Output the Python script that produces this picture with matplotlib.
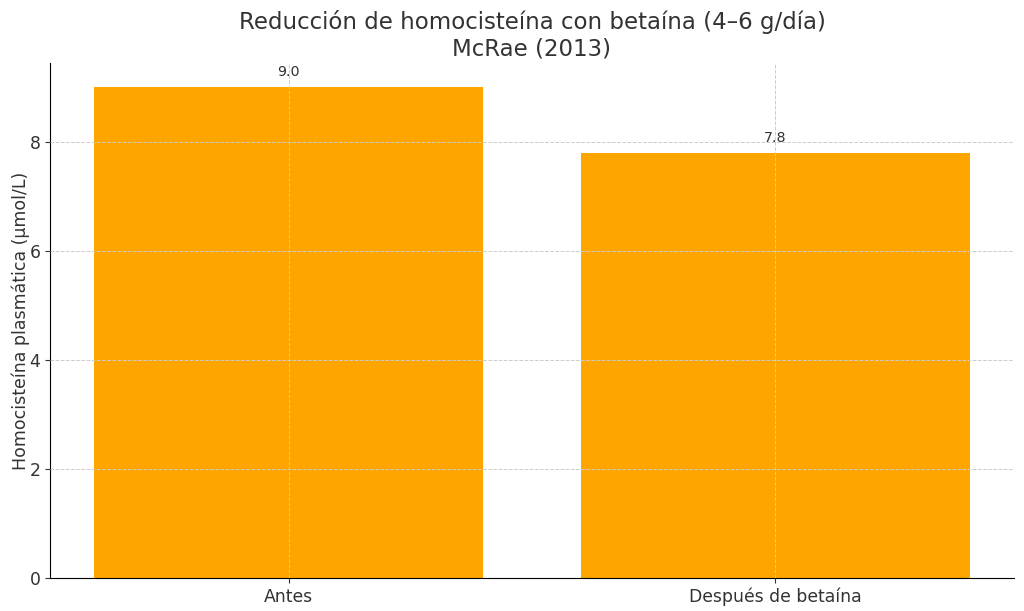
import matplotlib
matplotlib.use("Agg")
import matplotlib.pyplot as plt

categories = ["Antes", "Después de betaína"]
values = [9.0, 7.8]
bar_color = "#FFA500"

plt.rcParams['font.family'] = ['DejaVu Sans']
fig, ax = plt.subplots(figsize=(10.24, 6.11), dpi=100)
bars = ax.bar(categories, values, color=bar_color, width=0.8)
for b, v in zip(bars, values):
    ax.text(b.get_x() + b.get_width() / 2, v + 0.15, f"{v:.1f}", ha="center", va="bottom",
            fontsize=10.3, color="#333333")
ax.set_title("Reducción de homocisteína con betaína (4–6 g/día)\nMcRae (2013)", fontsize=16.5,
             color="#333333", pad=5)
ax.set_ylabel("Homocisteína plasmática (µmol/L)", fontsize=12.5, color="#333333", labelpad=-0.5)
ax.tick_params(labelsize=12.4, colors="#333333")
ax.grid(True, linestyle="--", color="#cccccc", linewidth=0.7)
ax.set_axisbelow(False)
ax.spines["top"].set_visible(False)
ax.spines["right"].set_visible(False)
fig.subplots_adjust(left=0.049, right=0.99, top=0.897, bottom=0.054)
fig.savefig("out.png", dpi=100)
